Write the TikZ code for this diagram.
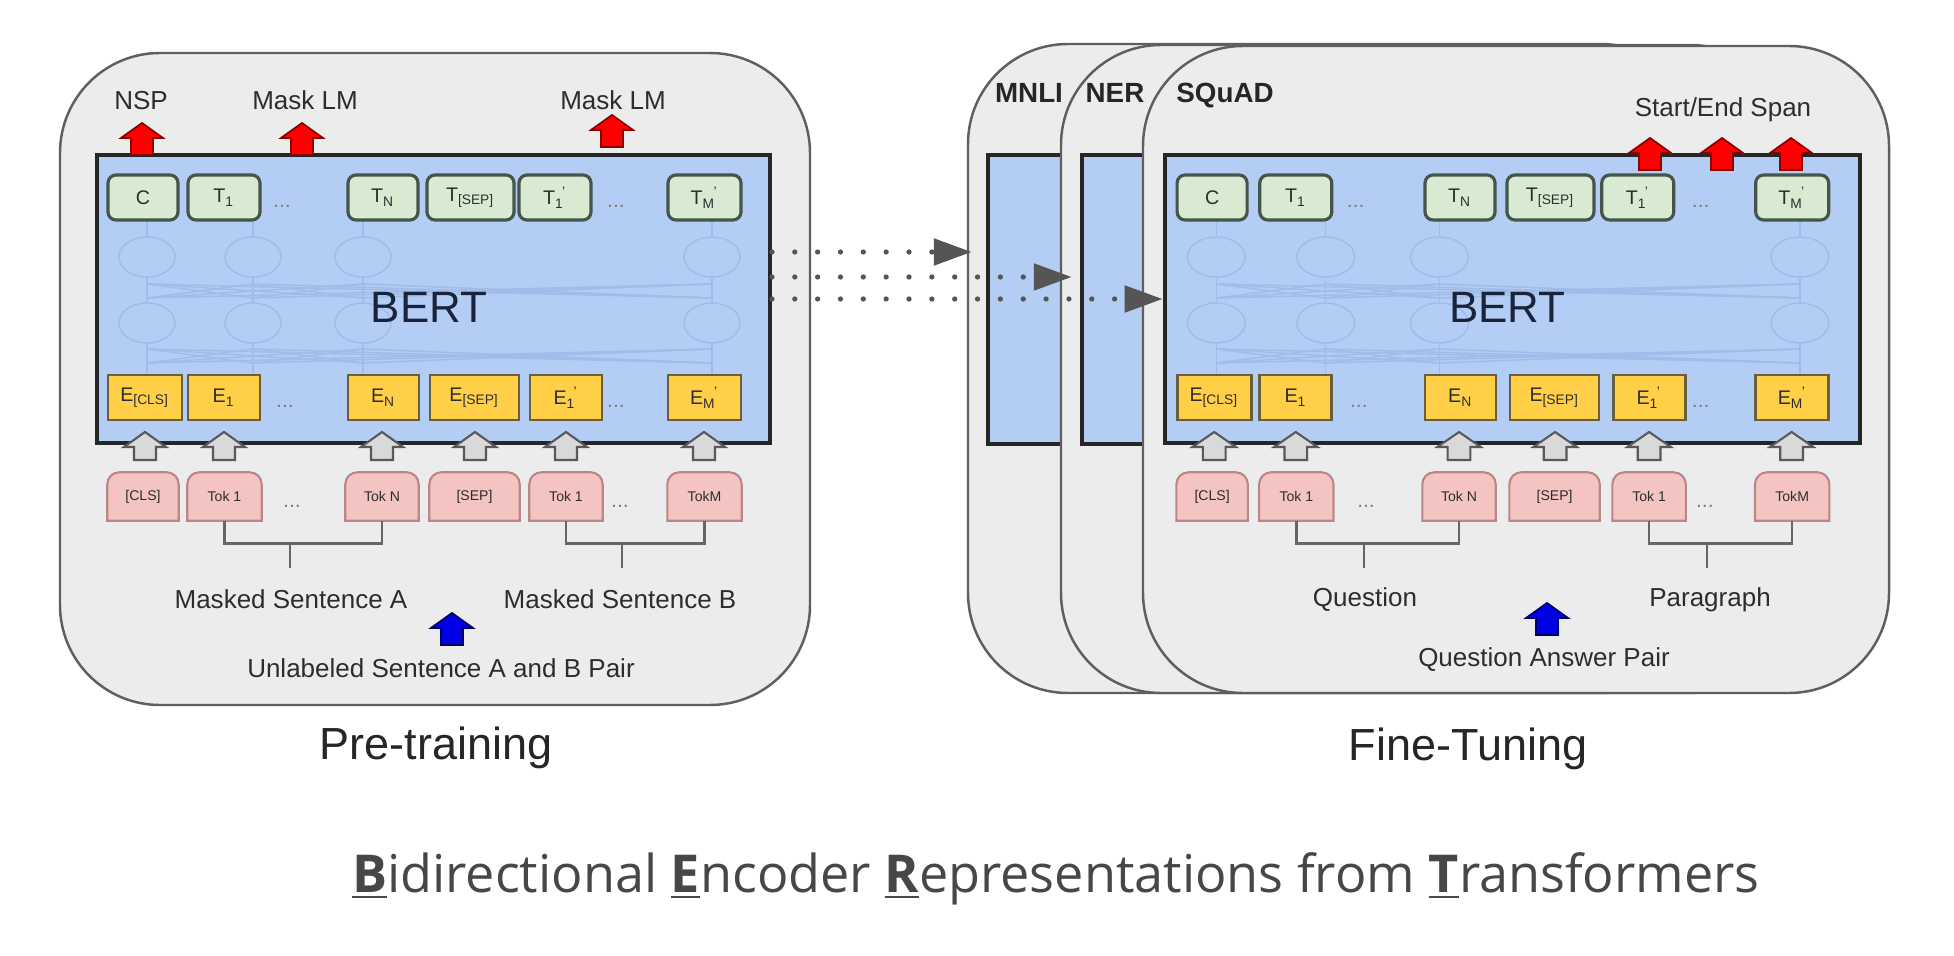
\documentclass[tikz,border=0pt]{standalone}
\usepackage{fontspec}
\setmainfont{Liberation Sans}
\newfontfamily\capfont{Open Sans}
\usetikzlibrary{arrows.meta,fit}

\definecolor{panelgray}{RGB}{237,236,236}
\definecolor{panelline}{RGB}{95,95,95}
\definecolor{bertblue}{RGB}{180,205,244}
\definecolor{netblue}{RGB}{160,188,232}
\definecolor{tgreen}{RGB}{217,234,211}
\definecolor{tline}{RGB}{70,85,75}
\definecolor{egold}{RGB}{255,207,72}
\definecolor{eline}{RGB}{105,95,60}
\definecolor{tokpink}{RGB}{244,196,194}
\definecolor{tokline}{RGB}{185,135,135}
\definecolor{txt}{RGB}{45,45,45}
\definecolor{bertink}{RGB}{25,35,60}
\definecolor{arrgray}{RGB}{85,85,85}

\tikzset{
  panel/.style={draw=panelline, fill=panelgray, line width=0.7pt, rounded corners=1cm, inner sep=0pt},
  bertbox/.style={draw=black!85, fill=bertblue, line width=1.1pt, inner sep=0pt},
  net/.style={draw=netblue, line width=0.4pt},
  tbox/.style={draw=tline, fill=tgreen, line width=0.9pt, rounded corners=0.08cm, minimum height=0.45cm, inner sep=0pt, text=txt, font=\fontsize{5.6}{6}\selectfont},
  ebox/.style={draw=eline, fill=egold, line width=0.8pt, minimum height=0.45cm, inner sep=0pt, text=txt, font=\fontsize{5.6}{6}\selectfont},
  tokbox/.style={minimum height=0.47cm, inner sep=0pt},
  tokshape/.style={draw=tokline, fill=tokpink, line width=0.6pt},
  toktext/.style={text=txt, inner sep=0pt, font=\fontsize{4}{4.5}\selectfont},
  gap/.style={text=gray, inner sep=0pt, font=\fontsize{6}{6}\selectfont},
  lbl/.style={anchor=base, inner sep=0pt, text=txt, font=\fontsize{7.4}{8}\selectfont},
  task/.style={anchor=base, inner sep=0pt, text=black!85, font=\bfseries\fontsize{7.9}{8}\selectfont},
  title/.style={anchor=base, inner sep=0pt, text=black!85, font=\fontsize{12.8}{14}\selectfont},
  bertlbl/.style={anchor=base, inner sep=0pt, text=bertink, font=\fontsize{12.5}{14}\selectfont},
  bracket/.style={draw=black!60, line width=0.7pt},
  dotarrow/.style={draw=arrgray, line width=1.5pt, line cap=round, dash pattern=on 0pt off 6.5pt, -{Triangle[length=3.8mm,width=2.6mm]}},
  redarr/.style={fill=red, draw=red!55!black, line width=0.5pt},
  bluearr/.style={fill=blue!90!black, draw=blue!40!black, line width=0.5pt},
  grayarr/.style={fill=black!15, draw=black!65, line width=0.6pt},
  pics/uparrow/.style 2 args={code={
    \filldraw[#1] (0,0) -- (0.21,-0.15) -- (0.11,-0.15) -- (0.11,-#2) -- (-0.11,-#2) -- (-0.11,-0.15) -- (-0.21,-0.15) -- cycle;
  }},
}

\newcommand{\primed}[2]{#1\textsubscript{#2}\kern-0.12em\textsuperscript{'}}
\newcommand{\capinit}[1]{\underline{\textbf{#1}}}
\newcommand{\tabpath}[1]{\filldraw[tokshape] (#1.south west) -- ([yshift=-1.2mm]#1.north west) arc[start angle=180, end angle=90, radius=1.2mm] -- ([xshift=-1.2mm]#1.north east) arc[start angle=90, end angle=0, radius=1.2mm] -- (#1.south east) -- cycle;}

% one BERT block: box, layers, embeddings, tokens
\newcommand{\bertpanel}[1]{%
  \coordinate (#1-nw) at (0.97,-1.55);
  \coordinate (#1-se) at (7.70,-4.43);
  \node[bertbox, fit=(#1-nw)(#1-se)] (#1-bert) {};
  \foreach \a in {1.47,2.53,3.63,7.12}{
    \draw[net] (\a,-2.20) -- (\a,-2.37);
    \draw[net] (\a,-2.57) ellipse[x radius=0.28, y radius=0.2];
    \draw[net] (\a,-2.77) -- (\a,-2.84);
    \draw[net] (\a,-2.98) -- (\a,-3.03);
    \draw[net] (\a,-3.23) ellipse[x radius=0.28, y radius=0.2];
    \draw[net] (\a,-3.43) -- (\a,-3.49);
    \draw[net] (\a,-3.63) -- (\a,-3.75);
    \foreach \b in {1.47,2.53,3.63,7.12}{
      \draw[net] (\a,-2.84) -- (\b,-2.98);
      \draw[net] (\a,-3.49) -- (\b,-3.63);
    }
  }
  \node[bertlbl] at (4.29,-3.23) {BERT};
  \foreach \n/\x/\w/\t in {c/1.43/0.70/C, t1/2.24/0.72/{T\textsubscript{1}}, tn/3.83/0.70/{T\textsubscript{N}}, tsep/4.705/0.87/{T\textsubscript{[SEP]}}, tb1/5.55/0.72/{\primed{T}{1}}, tm/7.045/0.73/{\primed{T}{M}}}
    \node[tbox, minimum width=\w cm] (#1-\n) at (\x,-1.975) {\t};
  \foreach \n/\x/\w/\t in {ecls/1.45/0.74/{E\textsubscript{[CLS]}}, e1/2.24/0.72/{E\textsubscript{1}}, en/3.835/0.71/{E\textsubscript{N}}, esep/4.745/0.89/{E\textsubscript{[SEP]}}, eb1/5.66/0.72/{\primed{E}{1}}, em/7.045/0.73/{\primed{E}{M}}}
    \node[ebox, minimum width=\w cm] (#1-\n) at (\x,-3.975) {\t};
  \node[gap] at (2.82,-2.06) {...};
  \node[gap] at (6.16,-2.06) {...};
  \node[gap] at (2.85,-4.06) {...};
  \node[gap] at (6.16,-4.06) {...};
  \foreach \x in {1.45,2.24,3.82,4.75,5.66,7.04}
    \pic at (\x,-4.32) {uparrow={grayarr}{0.28}};
  \foreach \n/\x/\w/\t in {cls/1.43/0.70/{[CLS]}, tok1/2.245/0.73/{Tok 1}, tokn/3.82/0.72/{Tok N}, sep/4.745/0.89/{[SEP]}, tokb1/5.66/0.72/{Tok 1}, tokm/7.045/0.73/{TokM}}{
    \node[tokbox, minimum width=\w cm] (#1-\n) at (\x,-4.965) {};
    \tabpath{#1-\n}
    \node[toktext] at (#1-\n) {\t};
  }
  \node[gap] at (2.92,-5.06) {...};
  \node[gap] at (6.20,-5.06) {...};
  \draw[bracket] (#1-tok1.south) -- ++(0,-0.23) -| (#1-tokn.south);
  \draw[bracket] (#1-tokb1.south) -- ++(0,-0.23) -| (#1-tokm.south);
  \coordinate (#1-qa) at (2.90,-5.43);
  \coordinate (#1-qb) at (6.22,-5.43);
  \draw[bracket] (#1-qa) -- ++(0,-0.25);
  \draw[bracket] (#1-qb) -- ++(0,-0.25);
}

\begin{document}
\begin{tikzpicture}
\useasboundingbox (0,0) rectangle (19.54,-9.56);
\fill[white] (0,0) rectangle (19.54,-9.56);

% pre-training
\node[panel, minimum width=7.5cm, minimum height=6.52cm] (pretrain) at (4.35,-3.79) {};
\bertpanel{pt}
\pic at (1.42,-1.23) {uparrow={redarr}{0.32}};
\pic at (3.02,-1.23) {uparrow={redarr}{0.32}};
\pic at (6.12,-1.15) {uparrow={redarr}{0.32}};
\node[lbl] (nsp) at (1.41,-1.10) {NSP};
\node[lbl] (mlma) at (3.05,-1.10) {Mask LM};
\node[lbl] (mlmb) at (6.13,-1.10) {Mask LM};
\node[lbl] (sena) at (2.91,-6.08) {Masked Sentence A};
\node[lbl] (senb) at (6.20,-6.08) {Masked Sentence B};
\pic at (4.52,-6.13) {uparrow={bluearr}{0.32}};
\node[lbl] (pair) at (4.41,-6.78) {Unlabeled Sentence A and B Pair};
\node[title] (pretitle) at (4.36,-7.59) {Pre-training};

% fine-tuning
\node[panel, minimum width=7.32cm, minimum height=6.49cm] (mnli) at (13.34,-3.685) {};
\filldraw[bertbox] (9.88,-1.55) rectangle (12.0,-4.44);
\node[panel, minimum width=7.29cm, minimum height=6.48cm] (ner) at (14.255,-3.69) {};
\filldraw[bertbox] (10.82,-1.55) rectangle (13.0,-4.44);
\node[panel, minimum width=7.46cm, minimum height=6.47cm] (squad) at (15.16,-3.695) {};
\begin{scope}[xshift=10.644cm, x=1.033cm]
  \bertpanel{ft}
\end{scope}
\node[task] (mnlilbl) at (10.29,-1.03) {MNLI};
\node[task] (nerlbl) at (11.15,-1.03) {NER};
\node[task] (squadlbl) at (12.25,-1.03) {SQuAD};
\foreach \x in {16.50,17.22,17.91}
  \pic at (\x,-1.38) {uparrow={redarr}{0.32}};
\node[lbl] (span) at (17.23,-1.17) {Start/End Span};
\node[lbl] (ques) at (13.65,-6.07) {Question};
\node[lbl] (para) at (17.10,-6.07) {Paragraph};
\pic at (15.47,-6.03) {uparrow={bluearr}{0.32}};
\node[lbl] (qapair) at (15.44,-6.66) {Question Answer Pair};
\node[title] (fttitle) at (14.68,-7.60) {Fine-Tuning};

% transfer arrows
\coordinate (a1) at ([yshift=4.7mm]pt-bert.east);
\coordinate (a2) at ([yshift=2.2mm]pt-bert.east);
\coordinate (a3) at (pt-bert.east);
\draw[dotarrow, shorten >=-0.5mm] (a1) -- (a1 -| mnli.west);
\draw[dotarrow, shorten >=-1.2mm] (a2) -- (a2 -| ner.west);
\draw[dotarrow] (a3) -- (a3 -| ft-bert.west);

\node[anchor=base, inner sep=0pt, text=black!72, font=\capfont\fontsize{14.85}{17}\selectfont] (caption) at (10.56,-8.92) {\capinit{B}idirectional \capinit{E}ncoder \capinit{R}epresentations from \capinit{T}ransformers};
\end{tikzpicture}
\end{document}
